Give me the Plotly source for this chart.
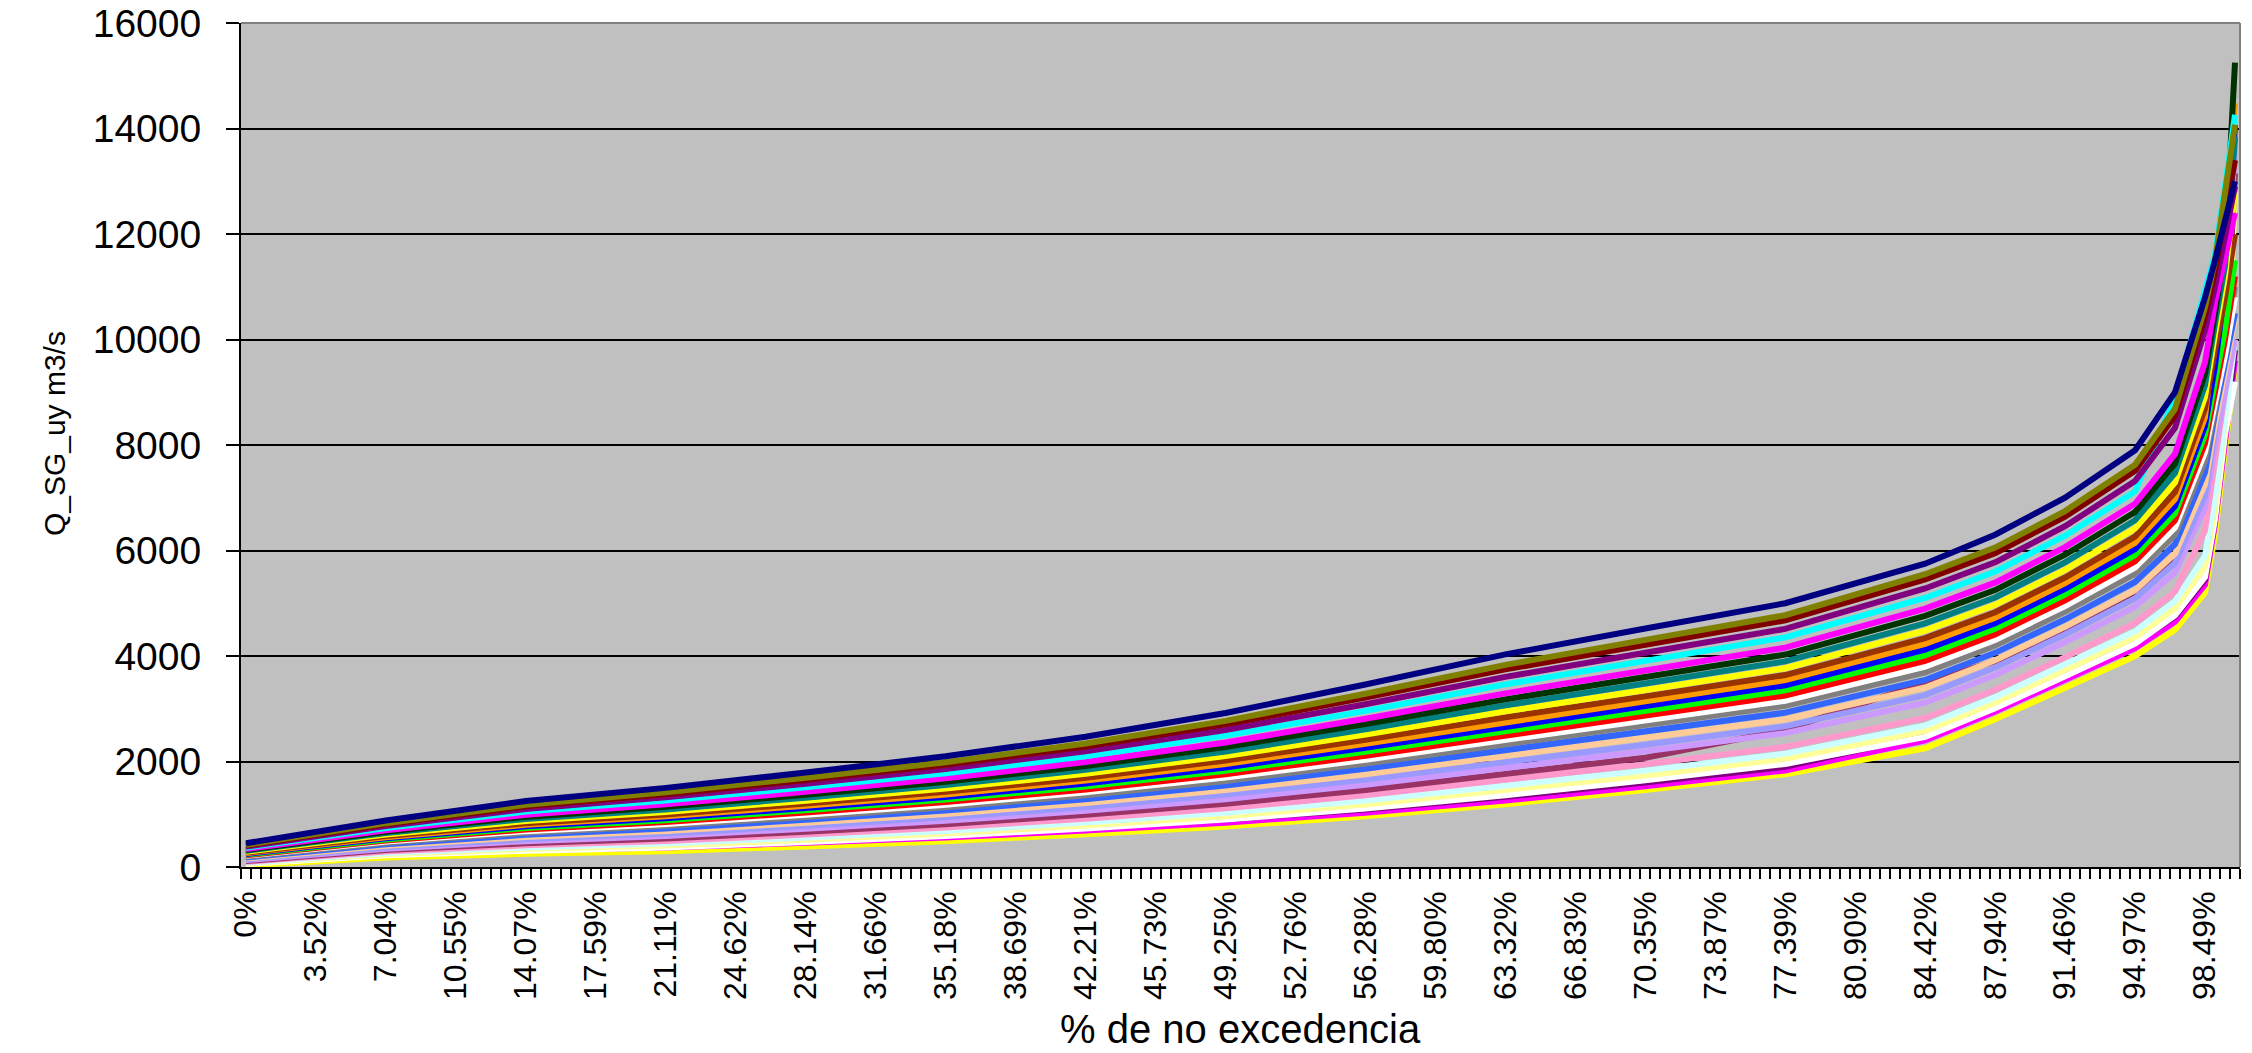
import plotly.graph_objects as go

# category positions (0..199 -> 0%..100%) where values were read
x_idx = [0, 14, 28, 42, 56, 70, 84, 98, 112, 126, 140, 154, 168, 175, 182, 189, 193, 196, 197, 198, 199]

tick_idx = [0, 7, 14, 21, 28, 35, 42, 49, 56, 63, 70, 77, 84, 91, 98, 105, 112, 119, 126, 133,
            140, 147, 154, 161, 168, 175, 182, 189, 196]
tick_text = ["0%", "3.52%", "7.04%", "10.55%", "14.07%", "17.59%", "21.11%", "24.62%", "28.14%",
             "31.66%", "35.18%", "38.69%", "42.21%", "45.73%", "49.25%", "52.76%", "56.28%",
             "59.80%", "63.32%", "66.83%", "70.35%", "73.87%", "77.39%", "80.90%", "84.42%",
             "87.94%", "91.46%", "94.97%", "98.49%"]

# caudales Q_SG_uy (m3/s) por serie
q_navy = [450, 880, 1250, 1500, 1790, 2100, 2470, 2920, 3460, 4030, 4520, 5000, 5750, 6300, 7000, 7900, 9000, 10800, 11500, 12200, 13000]
q_olive = [421, 831, 1180, 1416, 1692, 1987, 2340, 2770, 3285, 3831, 4306, 4773, 5550, 6055, 6748, 7627, 8685, 10615, 11500, 12800, 14070]
q_darkred = [408, 810, 1150, 1380, 1650, 1939, 2285, 2705, 3210, 3746, 4214, 4676, 5450, 5950, 6640, 7510, 8550, 10450, 11300, 12400, 13400]
q_purple = [387, 775, 1100, 1320, 1580, 1859, 2193, 2598, 3085, 3604, 4061, 4514, 5280, 5775, 6460, 7315, 8325, 10175, 11000, 12000, 12900]
q_cyan = [366, 740, 1050, 1260, 1510, 1778, 2100, 2490, 2960, 3462, 3908, 4352, 5100, 5600, 6280, 7120, 8900, 10900, 11600, 12900, 14260]
q_magenta = [341, 698, 990, 1188, 1426, 1681, 1989, 2361, 2810, 3292, 3724, 4158, 4900, 5390, 6064, 6886, 7830, 9570, 10700, 11500, 12400]
q_dkgreen = [324, 670, 950, 1140, 1370, 1617, 1915, 2275, 2710, 3178, 3602, 4028, 4760, 5250, 5920, 6730, 7650, 9350, 10500, 11700, 15250]
q_teal = [307, 642, 910, 1092, 1314, 1553, 1841, 2189, 2610, 3064, 3480, 3898, 4620, 5110, 5776, 6574, 7470, 9130, 10300, 11400, 13840]
q_yellow = [290, 614, 870, 1044, 1258, 1488, 1767, 2103, 2510, 2951, 3357, 3769, 4482, 4970, 5632, 6418, 7290, 8910, 10100, 11200, 12800]
q_brown = [274, 586, 830, 996, 1202, 1424, 1693, 2017, 2410, 2837, 3235, 3639, 4338, 4830, 5488, 6262, 7110, 8690, 9800, 10800, 12000]
q_orange = [261, 565, 800, 960, 1160, 1376, 1638, 1953, 2335, 2752, 3143, 3542, 4230, 4725, 5380, 6145, 6975, 8525, 10200, 12550, 14480]
q_blue = [248, 544, 770, 924, 1118, 1327, 1582, 1888, 2260, 2667, 3051, 3445, 4122, 4620, 5272, 6028, 6840, 8360, 9500, 11000, 14070]
q_green = [236, 523, 740, 888, 1076, 1279, 1527, 1824, 2185, 2582, 2959, 3348, 4014, 4515, 5164, 5911, 6705, 8195, 9200, 10200, 11500]
q_red = [223, 502, 710, 852, 1034, 1231, 1471, 1759, 2110, 2496, 2868, 3250, 3906, 4410, 5056, 5794, 6570, 8030, 9000, 10000, 11200]
q_white = [211, 481, 680, 816, 992, 1182, 1416, 1695, 2035, 2411, 2776, 3153, 3798, 4305, 4948, 5677, 6435, 7865, 8800, 9700, 10800]
q_gray = [198, 460, 650, 780, 950, 1134, 1360, 1630, 1960, 2326, 2684, 3056, 3690, 4200, 4840, 5560, 6300, 7700, 8700, 9800, 11000]
q_royal = [181, 432, 610, 732, 894, 1070, 1286, 1544, 1860, 2212, 2562, 2926, 3546, 4060, 4696, 5404, 6120, 7480, 8600, 9500, 10500]
q_tan = [164, 404, 570, 684, 838, 1005, 1212, 1458, 1760, 2099, 2439, 2797, 3402, 3920, 4552, 5248, 5940, 7260, 8400, 9400, 10400]
q_lavender = [148, 376, 530, 636, 782, 941, 1138, 1372, 1660, 1985, 2317, 2667, 3258, 3780, 4408, 5092, 5760, 7040, 8300, 10000, 13780]
q_lilac = [131, 348, 490, 588, 726, 876, 1064, 1286, 1560, 1872, 2194, 2538, 3114, 3640, 4264, 4936, 5580, 6820, 8000, 9000, 10000]
q_plum = [114, 320, 450, 540, 670, 812, 990, 1200, 1460, 1758, 2072, 2600, 3500, 3900, 4500, 5200, 5900, 7300, 8200, 9500, 13150]
q_pink = [97, 292, 410, 492, 614, 748, 916, 1114, 1360, 1644, 1950, 2278, 2826, 3360, 3976, 4624, 5220, 6380, 7600, 9000, 13460]
q_ltcyan = [80, 264, 370, 444, 558, 683, 842, 1028, 1260, 1531, 1827, 2149, 2682, 3220, 3832, 4468, 5040, 5900, 7000, 8500, 10000]
q_ltyellow = [68, 243, 340, 408, 516, 635, 787, 964, 1185, 1446, 1735, 2052, 2574, 3115, 3724, 4351, 4905, 5700, 6800, 8400, 12800]
q_white2 = [55, 222, 310, 372, 474, 587, 731, 899, 1110, 1360, 1644, 1954, 2466, 3010, 3616, 4234, 4770, 5500, 6600, 8200, 9200]
q_plus = [120, 290, 370, 420, 510, 610, 750, 900, 1090, 1330, 1600, 1900, 2500, 3050, 3650, 4250, 4750, 5450, 6600, 8300, 9800]
q_magenta2 = [90, 250, 320, 370, 460, 560, 690, 840, 1030, 1260, 1530, 1830, 2400, 2950, 3550, 4150, 4650, 5350, 6500, 8100, 9600]
q_yellow2 = [30, 180, 250, 300, 390, 490, 620, 770, 960, 1190, 1460, 1760, 2250, 2800, 3400, 4000, 4500, 5200, 6300, 8000, 9500]

# (values, colour) - drawn bottom series first
series = [
    (q_yellow2, "#FFFF00"),
    (q_magenta2, "#FF00FF"),
    (q_plus, "#800080"),
    (q_white2, "#FFFFFF"),
    (q_ltyellow, "#FFFF99"),
    (q_ltcyan, "#CCFFFF"),
    (q_pink, "#FF99CC"),
    (q_plum, "#993366"),
    (q_lilac, "#CC99FF"),
    (q_lavender, "#9999FF"),
    (q_tan, "#FFCC99"),
    (q_royal, "#3366FF"),
    (q_gray, "#808080"),
    (q_white, "#FFFFFF"),
    (q_red, "#FF0000"),
    (q_green, "#00FF00"),
    (q_blue, "#0000FF"),
    (q_orange, "#FF9900"),
    (q_brown, "#993300"),
    (q_yellow, "#FFFF00"),
    (q_teal, "#008080"),
    (q_dkgreen, "#003300"),
    (q_magenta, "#FF00FF"),
    (q_cyan, "#00FFFF"),
    (q_purple, "#800080"),
    (q_darkred, "#800000"),
    (q_olive, "#808000"),
    (q_navy, "#000080"),
]

fig = go.Figure()
for vals, col in series:
    fig.add_trace(go.Scatter(
        x=x_idx, y=vals, mode="lines",
        line=dict(color=col, width=6),
        showlegend=False, hoverinfo="skip"))

# empty trace so the label axis is drawn
fig.add_trace(go.Scatter(x=[0], y=[None], xaxis="x2", mode="lines",
                         showlegend=False, hoverinfo="skip"))

font = "Liberation Sans, Arial, sans-serif"
bounds = [i - 0.5 for i in range(201)]

# page body keeps its default 8px margin, so the figure is 8px smaller
fig.update_layout(
    width=2244, height=1045, autosize=False,
    margin=dict(l=233, r=12, t=15, b=186),
    paper_bgcolor="white", plot_bgcolor="#C0C0C0",
    font=dict(family=font, color="black"),
    xaxis=dict(
        range=[-0.5, 199.5], tickmode="array", tickvals=bounds, showticklabels=False,
        ticks="outside", ticklen=10, tickwidth=2, tickcolor="black",
        showgrid=False, zeroline=False, automargin=False,
        showline=True, linecolor="black", linewidth=2,
    ),
    xaxis2=dict(
        overlaying="x", anchor="y", side="bottom", range=[-0.5, 199.5],
        tickmode="array", tickvals=tick_idx, ticktext=tick_text,
        tickangle=-90, tickfont=dict(size=32, family=font, color="black"),
        ticks="", ticklabelstandoff=17, showgrid=False, zeroline=False,
        showline=False, automargin=False, ticklabeloverflow="allow",
    ),
    yaxis=dict(
        range=[0, 16000], tickmode="linear", tick0=0, dtick=2000, tickformat="d",
        tickfont=dict(size=39, family=font, color="black"),
        ticks="outside", ticklen=13, tickwidth=2, tickcolor="black", ticklabelstandoff=17,
        showgrid=True, gridcolor="black", gridwidth=2, zeroline=False, automargin=False,
        showline=True, linecolor="black", linewidth=2, ticklabeloverflow="allow",
    ),
    annotations=[
        dict(text="% de no excedencia", xref="paper", yref="paper", x=0.5, y=-0.192,
             xanchor="center", yanchor="middle", showarrow=False,
             font=dict(size=40, family=font, color="black")),
        dict(text="Q_SG_uy m3/s", xref="paper", yref="paper", x=-0.0935, y=0.513,
             xanchor="center", yanchor="middle", showarrow=False, textangle=-90,
             font=dict(size=30, family=font, color="black")),
    ],
    shapes=[
        dict(type="line", xref="paper", yref="paper", x0=0, x1=1, y0=1, y1=1,
             line=dict(color="#808080", width=2)),
        dict(type="line", xref="paper", yref="paper", x0=1, x1=1, y0=0, y1=1,
             line=dict(color="#808080", width=2)),
    ],
)

fig.write_html("out.html")
